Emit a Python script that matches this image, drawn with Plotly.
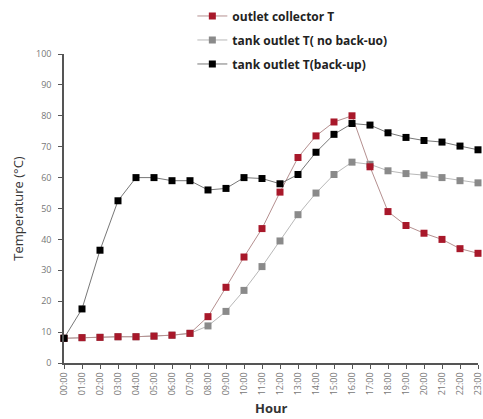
import plotly.graph_objects as go

# hours of the day
hours = ["%02d:00" % h for h in range(24)]

# temperatures [°C]
outlet_collector = [8.0, 8.2, 8.3, 8.5, 8.5, 8.7, 9.0, 9.6, 15.0, 24.5, 34.3, 43.5,
                    55.3, 66.5, 73.5, 78.0, 80.0, 63.5, 49.0, 44.5, 42.0, 40.0, 37.0, 35.5]
tank_no_backup = [8.0, 8.2, 8.3, 8.5, 8.5, 8.7, 9.0, 9.6, 12.0, 16.7, 23.5, 31.2,
                  39.5, 48.0, 55.0, 61.0, 65.0, 64.3, 62.2, 61.3, 60.8, 60.0, 59.0, 58.3]
tank_backup = [8.0, 17.5, 36.5, 52.5, 60.0, 60.0, 59.0, 59.0, 56.0, 56.5, 60.0, 59.7,
               58.0, 61.0, 68.2, 74.0, 77.5, 77.0, 74.5, 73.0, 72.0, 71.5, 70.2, 69.0]

y_ticks = list(range(0, 101, 10))

fig = go.Figure()
# drawing order: gray, red, black on top
fig.add_trace(go.Scatter(x=hours, y=tank_no_backup, name="tank outlet T( no back-uo)",
                         mode="lines+markers", legendgroup="b", legendrank=2, cliponaxis=False,
                         line=dict(color="#b8b8b8", width=1),
                         marker=dict(symbol="square", size=7, color="#8a8a8a")))
fig.add_trace(go.Scatter(x=hours, y=outlet_collector, name="outlet collector T",
                         mode="lines+markers", legendgroup="a", legendrank=1, cliponaxis=False,
                         line=dict(color="#b59090", width=1),
                         marker=dict(symbol="square", size=7, color="#a8182a")))
fig.add_trace(go.Scatter(x=hours, y=tank_backup, name="tank outlet T(back-up)",
                         mode="lines+markers", legendgroup="c", legendrank=3, cliponaxis=False,
                         line=dict(color="#777777", width=1),
                         marker=dict(symbol="square", size=7, color="#000000")))

fig.add_annotation(text="<b>Hour</b>", x=0.5, y=-0.146, xref="paper", yref="paper",
                   showarrow=False, xanchor="center", yanchor="middle",
                   font=dict(family="Open Sans", size=13, color="#333333"))

fig.update_layout(
    width=483, height=419,
    margin=dict(l=64, r=5, t=54, b=56, autoexpand=False),
    paper_bgcolor="white", plot_bgcolor="white",
    font=dict(family="Open Sans, sans-serif", color="#555555"),
    hovermode=False,
    showlegend=True,
    legend=dict(x=0.31, y=1.17, xanchor="left", yanchor="top",
                bgcolor="rgba(0,0,0,0)", tracegroupgap=5, itemclick=False,
                font=dict(family="Open Sans", size=12, color="#222222", weight="bold")),
    xaxis=dict(type="category", range=[0, 23], tickangle=-90, showline=True,
               linecolor="#555555", automargin=False,
               linewidth=1.5, ticks="outside", ticklen=4, tickcolor="#555555",
               tickfont=dict(size=9, color="#777777"), showgrid=False, zeroline=False),
    yaxis=dict(range=[0, 100], tickvals=y_ticks, showline=True, linecolor="#555555",
               linewidth=1.5, ticks="outside", ticklen=4, tickcolor="#555555",
               ticklabelstandoff=5, automargin=False,
               tickfont=dict(size=9, color="#777777"), showgrid=False, zeroline=False,
               title=dict(text="Temperature (°C)", font=dict(size=13, color="#333333"),
                          standoff=9)),
)

# drop the page's default body margin so the figure sits at the window corner
fig.write_html("out.html", config={"displayModeBar": False},
               post_script="document.body.style.margin='0';")
